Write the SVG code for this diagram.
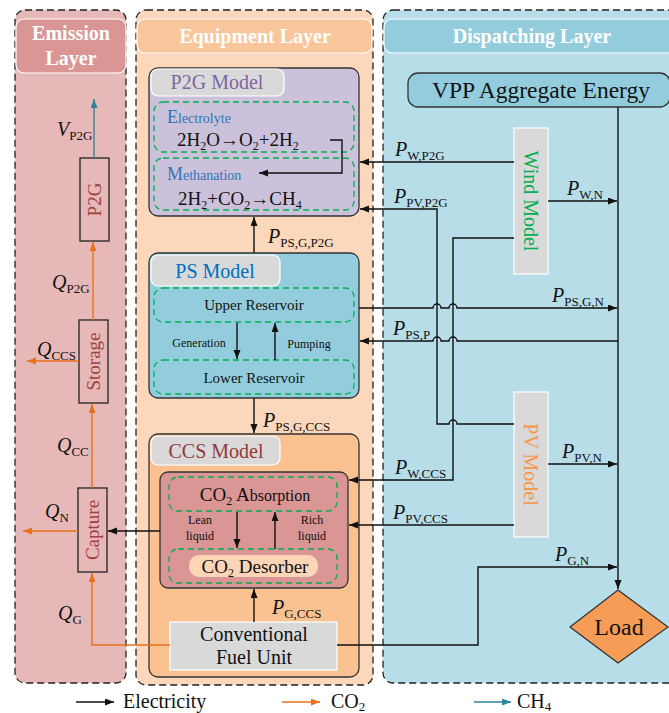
<svg xmlns="http://www.w3.org/2000/svg" width="669" height="713" viewBox="0 0 669 713" font-family="Liberation Serif">
<defs>
<style>
text{fill:#111}
.layer{stroke:#222;stroke-width:1.3;stroke-dasharray:7 4}
.hdr{stroke:#fff;stroke-width:1.2}
.ht{font-size:20px;font-weight:bold;fill:#fff;text-anchor:middle}
.model{stroke:#333;stroke-width:1.3}
.gbox{fill:#d9d9d9;stroke:#fff;stroke-width:1.2}
.gd{fill:none;stroke:#00b050;stroke-width:1.3;stroke-dasharray:6 4}
.el{fill:none;stroke:#111;stroke-width:1.4}
.co{fill:none;stroke:#e8711c;stroke-width:1.4}
.ch{fill:none;stroke:#31859c;stroke-width:1.4}
.eb{fill:none;stroke:#222;stroke-width:1.3}
.v{font-style:italic;font-size:20px}
.s{font-size:13px}
.sm{font-size:12px;text-anchor:middle}
.mid{text-anchor:middle}
</style>
<marker id="ak" markerUnits="userSpaceOnUse" markerWidth="10" markerHeight="8" refX="9" refY="3.5" orient="auto"><path d="M0,0 L9,3.5 L0,7 z" fill="#111"/></marker>
<marker id="ao" markerUnits="userSpaceOnUse" markerWidth="10" markerHeight="8" refX="9" refY="3.5" orient="auto"><path d="M0,0 L9,3.5 L0,7 z" fill="#e8711c"/></marker>
<marker id="at" markerUnits="userSpaceOnUse" markerWidth="10" markerHeight="8" refX="9" refY="3.5" orient="auto"><path d="M0,0 L9,3.5 L0,7 z" fill="#31859c"/></marker>
</defs>

<g id="emission-layer">
<rect class="layer" x="15" y="10" width="111" height="673" rx="10" fill="#e6b9b8"/>
<rect class="hdr" x="16" y="19" width="110" height="54" rx="8" fill="#d99694"/>
<text font-family="Liberation Serif" class="ht" x="71" y="40">Emission</text>
<text font-family="Liberation Serif" class="ht" x="71" y="65">Layer</text>
</g>
<g id="equipment-layer">
<rect class="layer" x="136" y="10" width="237" height="675" rx="10" fill="#fbd8bb"/>
<rect class="hdr" x="137" y="19" width="235" height="34" rx="8" fill="#f9c59a"/>
<text font-family="Liberation Serif" class="ht" x="255" y="43">Equipment Layer</text>
</g>
<g id="dispatching-layer">
<rect class="layer" x="383" y="10" width="300" height="673" rx="10" fill="#b7dde8"/>
<rect class="hdr" x="384" y="19" width="300" height="34" rx="8" fill="#93cddd"/>
<text font-family="Liberation Serif" class="ht" x="532" y="43">Dispatching Layer</text>
</g>

<g id="p2g-model">
<rect class="model" x="149" y="68" width="210" height="148" rx="9" fill="#ccc1da"/>
<rect class="gbox" x="151" y="69" width="133" height="27" rx="7"/>
<text font-family="Liberation Serif" x="217" y="89" class="mid" font-size="20" style="fill:#8064a2">P2G Model</text>
<rect class="gd" x="154" y="102" width="200" height="50" rx="9"/>
<rect class="gd" x="154" y="158" width="200" height="52" rx="9"/>
<text font-family="Liberation Serif" x="167" y="123" style="fill:#2e75b6"><tspan font-size="18">E</tspan><tspan font-size="14">lectrolyte</tspan></text>
<text font-family="Liberation Serif" x="177" y="146" font-size="19">2H<tspan font-size="12" dy="4">2</tspan><tspan dy="-4">O→O</tspan><tspan font-size="12" dy="4">2</tspan><tspan dy="-4">+2H</tspan><tspan font-size="12" dy="4">2</tspan></text>
<text font-family="Liberation Serif" x="167" y="180" style="fill:#2e75b6"><tspan font-size="18">M</tspan><tspan font-size="14">ethanation</tspan></text>
<text font-family="Liberation Serif" x="178" y="205" font-size="19">2H<tspan font-size="12" dy="4">2</tspan><tspan dy="-4">+CO</tspan><tspan font-size="12" dy="4">2</tspan><tspan dy="-4">→CH</tspan><tspan font-size="12" dy="4">4</tspan></text>
<path class="el" d="M330,140 H342 V173 H259" marker-end="url(#ak)"/>
</g>

<g id="ps-model">
<rect class="model" x="149" y="253" width="210" height="145" rx="9" fill="#93cddd"/>
<rect class="gbox" x="151" y="255" width="129" height="31" rx="7"/>
<text font-family="Liberation Serif" x="215" y="278" class="mid" font-size="20" style="fill:#0070c0">PS Model</text>
<rect class="gd" x="154" y="288" width="200" height="34" rx="9"/>
<text font-family="Liberation Serif" x="254" y="310" class="mid" font-size="15">Upper Reservoir</text>
<rect class="gd" x="154" y="360" width="200" height="34" rx="9"/>
<text font-family="Liberation Serif" x="254" y="383" class="mid" font-size="15">Lower Reservoir</text>
<line class="el" x1="237" y1="323" x2="237" y2="359" marker-end="url(#ak)"/>
<line class="el" x1="275" y1="360" x2="275" y2="323" marker-end="url(#ak)"/>
<text font-family="Liberation Serif" x="199" y="347" class="sm">Generation</text>
<text font-family="Liberation Serif" x="309" y="348" class="sm">Pumping</text>
</g>

<g id="ccs-model">
<rect class="model" x="149" y="434" width="210" height="243" rx="9" fill="#fac191"/>
<rect class="gbox" x="151" y="436" width="129" height="29" rx="7"/>
<text font-family="Liberation Serif" x="216" y="458" class="mid" font-size="20" style="fill:#953735">CCS Model</text>
<rect class="model" x="160" y="472" width="188" height="116" rx="8" fill="#d99694"/>
<rect class="gd" x="169" y="477" width="168" height="34" rx="9"/>
<text font-family="Liberation Serif" x="255" y="501" class="mid" font-size="19">CO<tspan font-size="12" dy="4">2</tspan><tspan dy="-4"> A</tspan><tspan font-size="16">bsorption</tspan></text>
<rect class="gd" x="169" y="549" width="168" height="34" rx="9"/>
<rect x="189" y="555" width="129" height="22" rx="10" fill="#fbd5b5"/>
<text font-family="Liberation Serif" x="255" y="573" class="mid" font-size="19">CO<tspan font-size="12" dy="4">2</tspan><tspan dy="-4"> Desorber</tspan></text>
<line class="el" x1="237" y1="512" x2="237" y2="548" marker-end="url(#ak)"/>
<line class="el" x1="275" y1="549" x2="275" y2="512" marker-end="url(#ak)"/>
<text font-family="Liberation Serif" x="200" y="524" class="sm">Lean</text>
<text font-family="Liberation Serif" x="200" y="540" class="sm">liquid</text>
<text font-family="Liberation Serif" x="312" y="524" class="sm">Rich</text>
<text font-family="Liberation Serif" x="312" y="540" class="sm">liquid</text>
</g>

<g id="fuel-unit">
<rect class="gbox" x="170" y="622" width="167" height="48"/>
<text font-family="Liberation Serif" x="254" y="641" class="mid" font-size="20">Conventional</text>
<text font-family="Liberation Serif" x="254" y="664" class="mid" font-size="20">Fuel Unit</text>
</g>

<g id="p2g-box">
<rect class="eb" x="80" y="158" width="29" height="83"/>
<text font-family="Liberation Serif" transform="translate(101,199.5) rotate(-90)" class="mid" font-size="19" style="fill:#a0403f">P2G</text>
</g>
<g id="storage-box">
<rect class="eb" x="79" y="320" width="29" height="83"/>
<text font-family="Liberation Serif" transform="translate(100,361.5) rotate(-90)" class="mid" font-size="19" style="fill:#a0403f">Storage</text>
</g>
<g id="capture-box">
<rect class="eb" x="78" y="488" width="29" height="84"/>
<text font-family="Liberation Serif" transform="translate(99,530) rotate(-90)" class="mid" font-size="19" style="fill:#a0403f">Capture</text>
</g>

<g id="vpp">
<rect class="model" x="408" y="73" width="262" height="34" rx="10" fill="#93cddd"/>
<text font-family="Liberation Serif" x="541" y="98" class="mid" font-size="23.5">VPP Aggregate Energy</text>
</g>
<g id="wind-model">
<rect class="gbox" x="514" y="128" width="34" height="146"/>
<text font-family="Liberation Serif" transform="translate(524,201) rotate(90)" class="mid" font-size="20" style="fill:#00b050">Wind Model</text>
</g>
<g id="pv-model">
<rect class="gbox" x="514" y="392" width="34" height="145"/>
<text font-family="Liberation Serif" transform="translate(524,464.5) rotate(90)" class="mid" font-size="20" style="fill:#f79646">PV Model</text>
</g>
<g id="load">
<polygon points="618,590 668,627 618,663 570,627" fill="#f59d56" stroke="#333" stroke-width="1.3"/>
<text font-family="Liberation Serif" x="619" y="635" class="mid" font-size="24">Load</text>
</g>

<g id="connectors">
<line class="el" x1="254" y1="253" x2="254" y2="217" marker-end="url(#ak)"/>
<line class="el" x1="254" y1="398" x2="254" y2="433" marker-end="url(#ak)"/>
<line class="el" x1="254" y1="622" x2="254" y2="589" marker-end="url(#ak)"/>
<line class="el" x1="160" y1="531" x2="108" y2="531" marker-end="url(#ak)"/>
<line class="ch" x1="94" y1="158" x2="94" y2="99" marker-end="url(#at)"/>
<line class="co" x1="93" y1="320" x2="93" y2="242" marker-end="url(#ao)"/>
<line class="co" x1="79" y1="361" x2="27" y2="361" marker-end="url(#ao)"/>
<line class="co" x1="92" y1="488" x2="92" y2="404" marker-end="url(#ao)"/>
<line class="co" x1="78" y1="531" x2="23" y2="531" marker-end="url(#ao)"/>
<path class="co" d="M170,645 H92 V573" marker-end="url(#ao)"/>
<line class="el" x1="618" y1="107" x2="618" y2="589" marker-end="url(#ak)"/>
<line class="el" x1="514" y1="162" x2="360" y2="162" marker-end="url(#ak)"/>
<path class="el" d="M514,424 H457 a4,4 0 0 0 -8,0 H437 V209 H360" marker-end="url(#ak)"/>
<path class="el" d="M514,238 H453 V480 H349" marker-end="url(#ak)"/>
<line class="el" x1="548" y1="201" x2="617" y2="201" marker-end="url(#ak)"/>
<path class="el" d="M359,308 H433 a4,4 0 0 1 8,0 H449 a4,4 0 0 1 8,0 H617" marker-end="url(#ak)"/>
<path class="el" d="M618,341 H457 a4,4 0 0 0 -8,0 H441 a4,4 0 0 0 -8,0 H360" marker-end="url(#ak)"/>
<line class="el" x1="548" y1="464" x2="617" y2="464" marker-end="url(#ak)"/>
<line class="el" x1="514" y1="525" x2="349" y2="525" marker-end="url(#ak)"/>
<path class="el" d="M337,645 H478 V567 H617" marker-end="url(#ak)"/>
</g>

<g id="labels">
<text font-family="Liberation Serif" x="57" y="136"><tspan class="v">V</tspan><tspan class="s" dy="4">P2G</tspan></text>
<text font-family="Liberation Serif" x="52" y="289"><tspan class="v">Q</tspan><tspan class="s" dy="4">P2G</tspan></text>
<text font-family="Liberation Serif" x="37" y="356"><tspan class="v">Q</tspan><tspan class="s" dy="4">CCS</tspan></text>
<text font-family="Liberation Serif" x="57" y="452"><tspan class="v">Q</tspan><tspan class="s" dy="4">CC</tspan></text>
<text font-family="Liberation Serif" x="45" y="518"><tspan class="v">Q</tspan><tspan class="s" dy="4">N</tspan></text>
<text font-family="Liberation Serif" x="58" y="620"><tspan class="v">Q</tspan><tspan class="s" dy="4">G</tspan></text>
<text font-family="Liberation Serif" x="268" y="243"><tspan class="v">P</tspan><tspan class="s" dy="4">PS,G,P2G</tspan></text>
<text font-family="Liberation Serif" x="263" y="427"><tspan class="v">P</tspan><tspan class="s" dy="4">PS,G,CCS</tspan></text>
<text font-family="Liberation Serif" x="272" y="614"><tspan class="v">P</tspan><tspan class="s" dy="4">G,CCS</tspan></text>
<text font-family="Liberation Serif" x="395" y="156"><tspan class="v">P</tspan><tspan class="s" dy="4">W,P2G</tspan></text>
<text font-family="Liberation Serif" x="394" y="203"><tspan class="v">P</tspan><tspan class="s" dy="4">PV,P2G</tspan></text>
<text font-family="Liberation Serif" x="567" y="195"><tspan class="v">P</tspan><tspan class="s" dy="4">W,N</tspan></text>
<text font-family="Liberation Serif" x="552" y="302"><tspan class="v">P</tspan><tspan class="s" dy="4">PS,G,N</tspan></text>
<text font-family="Liberation Serif" x="393" y="335"><tspan class="v">P</tspan><tspan class="s" dy="4">PS,P</tspan></text>
<text font-family="Liberation Serif" x="562" y="458"><tspan class="v">P</tspan><tspan class="s" dy="4">PV,N</tspan></text>
<text font-family="Liberation Serif" x="395" y="474"><tspan class="v">P</tspan><tspan class="s" dy="4">W,CCS</tspan></text>
<text font-family="Liberation Serif" x="393" y="519"><tspan class="v">P</tspan><tspan class="s" dy="4">PV,CCS</tspan></text>
<text font-family="Liberation Serif" x="555" y="561"><tspan class="v">P</tspan><tspan class="s" dy="4">G,N</tspan></text>
</g>

<g id="legend">
<line class="el" x1="76" y1="702" x2="114" y2="702" marker-end="url(#ak)"/>
<text font-family="Liberation Serif" x="123" y="708" font-size="20">Electricity</text>
<line class="co" x1="282" y1="702" x2="320" y2="702" marker-end="url(#ao)"/>
<text font-family="Liberation Serif" x="331" y="708" font-size="20">CO<tspan font-size="13" dy="3">2</tspan></text>
<line class="ch" x1="474" y1="702" x2="511" y2="702" marker-end="url(#at)"/>
<text font-family="Liberation Serif" x="517" y="708" font-size="20">CH<tspan font-size="13" dy="3">4</tspan></text>
</g>
</svg>
